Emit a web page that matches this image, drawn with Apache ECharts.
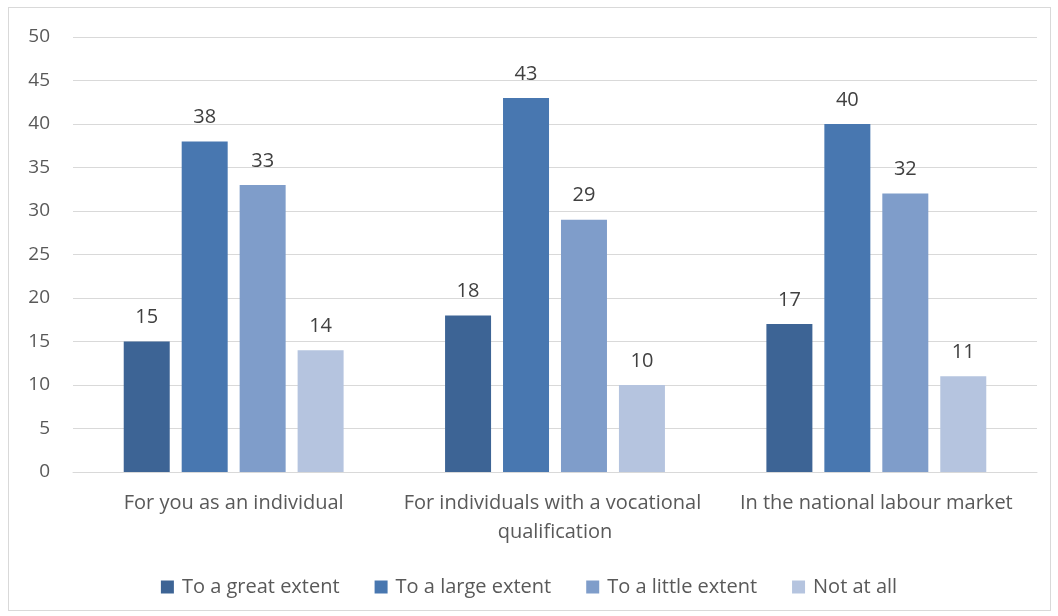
<!DOCTYPE html>
<html>
<head>
<meta charset="utf-8">
<style>
  html, body { margin: 0; padding: 0; background: #ffffff; }
  #frame { position: absolute; left: 8px; top: 7px; width: 1043px; height: 604px; border: 1px solid #d9d9d9; box-sizing: border-box; }
  #chart { position: absolute; left: 0; top: 0; width: 1058px; height: 616px; }
</style>
<script src="https://cdn.jsdelivr.net/npm/echarts@6/dist/echarts.min.js"></script>
</head>
<body>
<div id="frame"></div>
<div id="chart"></div>
<script>
// Survey categories along the x axis
const categories = [
  'For you as an individual',
  'For individuals with a vocational qualification',
  'In the national labour market'
];

// Response shares per answer option
const seriesNames = ['To a great extent', 'To a large extent', 'To a little extent', 'Not at all'];
const greatExtent  = [15, 18, 17];
const largeExtent  = [38, 43, 40];
const littleExtent = [33, 29, 32];
const notAtAll     = [14, 10, 11];

const yTicks = { min: 0, max: 50, interval: 5 };

const colors = ['#3d6495', '#4877b0', '#7f9dca', '#b5c4df'];
const font = '"Open Sans", "Noto Sans", sans-serif';
const textColor = '#595959';

const seriesData = [greatExtent, largeExtent, littleExtent, notAtAll];

const chart = echarts.init(document.getElementById('chart'), null, { renderer: 'canvas' });

chart.setOption({
  animation: false,
  color: colors,
  grid: { left: 73, right: 21, top: 37, bottom: 144, containLabel: false },
  legend: {
    top: 572,
    left: 'center',
    itemWidth: 13,
    itemHeight: 13,
    itemGap: 35,
    icon: 'rect',
    textStyle: { fontFamily: font, fontSize: 20, color: textColor, padding: [0, 0, 0, 3] },
    data: seriesNames
  },
  xAxis: {
    type: 'category',
    data: categories,
    axisTick: { show: false },
    axisLine: { lineStyle: { color: '#d9d9d9', width: 1 } },
    axisLabel: {
      interval: 0,
      margin: 17,
      fontFamily: font,
      fontSize: 20,
      color: textColor,
      lineHeight: 29,
      width: 322,
      overflow: 'break'
    }
  },
  yAxis: {
    type: 'value',
    min: yTicks.min,
    max: yTicks.max,
    interval: yTicks.interval,
    axisLine: { show: false },
    axisTick: { show: false },
    splitLine: { lineStyle: { color: '#d9d9d9', width: 1 } },
    axisLabel: { margin: 23, fontFamily: font, fontSize: 19, color: textColor }
  },
  series: seriesNames.map((name, i) => ({
    name: name,
    type: 'bar',
    data: seriesData[i],
    barWidth: 46,
    barGap: '26%',
    label: {
      show: true,
      position: 'top',
      distance: 14,
      fontFamily: font,
      fontSize: 20,
      color: '#404040'
    }
  }))
});
</script>
</body>
</html>
